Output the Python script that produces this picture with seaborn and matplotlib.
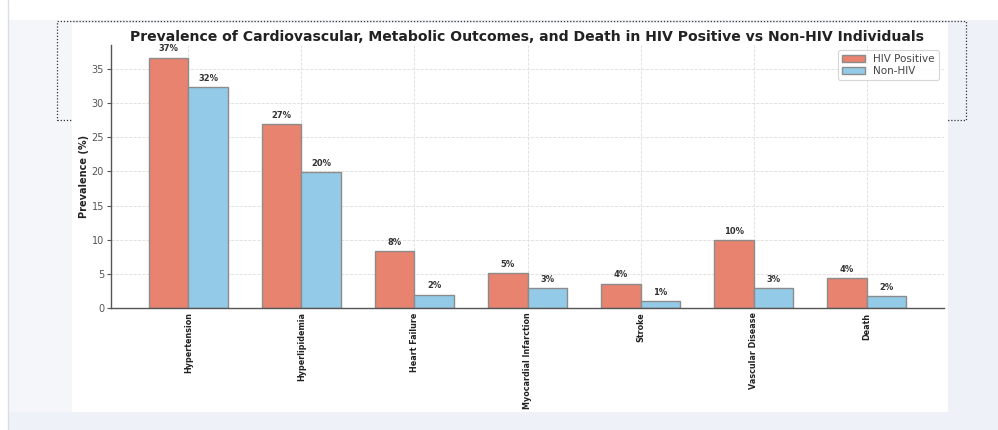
import matplotlib
matplotlib.use("Agg")
import matplotlib.pyplot as plt
from matplotlib.patches import Rectangle
from matplotlib.lines import Line2D
import seaborn as sns
import pandas as pd

# Outcome categories and prevalence (%) per group
outcomes = ["Hypertension", "Hyperlipidemia", "Heart Failure", "Myocardial Infarction",
            "Stroke", "Vascular Disease", "Death"]
hiv_positive = [36.6, 26.9, 8.3, 5.1, 3.6, 9.9, 4.4]
non_hiv = [32.3, 19.9, 2.0, 3.0, 1.0, 3.0, 1.8]
groups = ["HIV Positive", "Non-HIV"]
group_colors = ["#E8836F", "#93CAE7"]

df = pd.DataFrame({
    "Outcome": outcomes * 2,
    "Prevalence": hiv_positive + non_hiv,
    "Group": [groups[0]] * len(outcomes) + [groups[1]] * len(outcomes),
})

sns.set_theme(style="white")
plt.rcParams["font.family"] = ["DejaVu Sans"]

W, H = 998, 430
fig = plt.figure(figsize=(W / 100, H / 100), dpi=100, facecolor="#EEF1F7")


def px_rect(x0, y0, x1, y1, **kw):
    """Rectangle given in pixel coordinates measured from the top-left corner."""
    return Rectangle((x0 / W, 1 - y1 / H), (x1 - x0) / W, (y1 - y0) / H,
                     transform=fig.transFigure, **kw)


# page backdrop
fig.patches.append(px_rect(0, 0, W, 20, facecolor="white", edgecolor="none", zorder=0))
fig.patches.append(px_rect(0, 0, 8, H, facecolor="white", edgecolor="none", zorder=0))
fig.patches.append(px_rect(8, 20, 72, 412, facecolor="#F4F6FA", edgecolor="none", zorder=0))
fig.lines.append(Line2D([8 / W, 8 / W], [0, 1], transform=fig.transFigure,
                        color="#D9DDE4", lw=1, zorder=1))
fig.patches.append(px_rect(57, 21, 966, 120, facecolor="none", edgecolor="#333333",
                           lw=0.9, linestyle=(0, (1, 1.5)), zorder=1))
fig.patches.append(px_rect(72, 23, 948, 412, facecolor="white", edgecolor="none", zorder=2))

ax = fig.add_axes([111 / W, 1 - 308.3 / H, (944 - 111) / W, (308.3 - 45) / H])
ax.set_zorder(3)
ax.patch.set_alpha(0)

sns.barplot(data=df, x="Outcome", y="Prevalence", hue="Group", hue_order=groups,
            palette=group_colors, width=0.7, edgecolor="#8C8C8C", linewidth=1.0,
            saturation=1, ax=ax, errorbar=None)
ax.set_xlim(-0.685, len(outcomes) - 1 + 0.685)

for cont in ax.containers:
    ax.bar_label(cont, fmt="{:.0f}%", padding=3, fontsize=6, fontweight="bold",
                 color="#333333")

ax.set_title("Prevalence of Cardiovascular, Metabolic Outcomes, and Death in HIV Positive vs Non-HIV Individuals",
             fontsize=10.1, fontweight="bold", color="#222222", pad=3)
ax.set_xlabel("")
ax.set_ylabel("Prevalence (%)", fontsize=7, fontweight="bold", color="#222222", labelpad=2)

ax.grid(True, axis="both", linestyle="--", linewidth=0.6, color="#DDDDDD")
ax.set_axisbelow(True)
for side in ("top", "right"):
    ax.spines[side].set_visible(False)
for side in ("left", "bottom"):
    ax.spines[side].set_color("#555555")
    ax.spines[side].set_linewidth(1.0)

ax.tick_params(axis="y", labelsize=7, colors="#555555", length=3, width=0.8, pad=2, left=True)
ax.tick_params(axis="x", length=0, pad=3, colors="#555555")
for lab in ax.get_xticklabels():
    lab.set_rotation(90)
    lab.set_fontsize(5.8)
    lab.set_fontweight("bold")
    lab.set_color("#222222")
    lab.set_va("top")

leg = ax.legend(loc="upper right", fontsize=7.5, frameon=True, handlelength=2.2,
                borderpad=0.4, labelspacing=0.15, handletextpad=0.8)
leg.get_frame().set_edgecolor("#CCCCCC")
leg.get_frame().set_linewidth(0.8)
for t in leg.get_texts():
    t.set_color("#444444")

fig.savefig("out.png", dpi=100, facecolor=fig.get_facecolor())
